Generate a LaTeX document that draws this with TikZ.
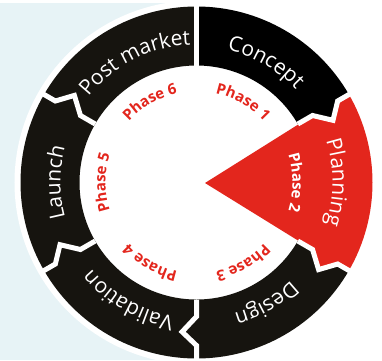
\documentclass[tikz,border=0pt]{standalone}
\usepackage{fontspec}
\setmainfont{Open Sans}
\usetikzlibrary{decorations.text}
\definecolor{ringdark}{HTML}{16140F}
\definecolor{phasered}{HTML}{E3261D}
\definecolor{paleblue}{HTML}{E7F3F6}
\tikzset{
  gapline/.style={white, line width=5pt},
  ringlabel/.style={decorate, decoration={text along path, text align=center, text color=white,
    text={|\fontsize{21}{25}\selectfont|#1}}},
  phaselabel/.style={decorate, decoration={text along path, text align=center, text color=phasered,
    text={|\fontsize{15}{18}\selectfont\bfseries|#1}}}
}
\begin{document}
\begin{tikzpicture}[x=1pt,y=1pt]
\useasboundingbox (-196.5,-177.5) rectangle (185.5,182.5);
\fill[paleblue] (-196.5,-177.5) rectangle (0,179.5);
\fill[white] (0,0) circle[radius=182pt];
\foreach \a/\b/\da/\db/\col in {90/30/0/5.5/black, -30/-90/5.5/5.5/ringdark, -90/-150/5.5/5.5/ringdark,
    -150/-210/5.5/5.5/ringdark, 150/90/5.5/0/ringdark}
  \fill[\col] (\a:117pt) -- (\a:134pt) -- ({\a-\da}:150pt) -- (\a:163pt) -- (\a:176pt)
    arc[start angle=\a, end angle=\b, radius=176pt] -- (\b:163pt) -- ({\b-\db}:150pt) -- (\b:134pt) -- (\b:117pt)
    arc[start angle=\b, end angle=\a, radius=117pt] -- cycle;
\coordinate (apex) at (8.5,-0.5);
\fill[phasered] (apex) -- (30:134pt) -- (24.5:150pt) -- (30:163pt) -- (30:176pt)
  arc[start angle=30, end angle=-30, radius=176pt] -- (-30:163pt) -- (-35.5:150pt) -- (-30:134pt) -- cycle;
\foreach \t/\d in {90/0, 30/5.5, -30/5.5, -90/5.5, -150/5.5, 150/5.5}
  \draw[gapline] (\t:117pt) -- (\t:134pt) -- ({\t-\d}:150pt) -- (\t:163pt) -- (\t:181pt);
\foreach \c/\r/\txt in {117/138/Post market, 60/136/Concept, 0/136/Planning, -60/136/Design,
    -120/136/Validation, 180/136/Launch}
  \path[ringlabel=\txt] ({\c+55}:\r pt) arc[start angle=\c+55, end angle=\c-55, radius=\r pt];
\foreach \c/\txt in {120/Phase 6, 60/Phase 1, -60/Phase 3, -120/Phase 4, 180/Phase 5}
  \path[phaselabel=\txt] ({\c+50}:91pt) arc[start angle=\c+50, end angle=\c-50, radius=91pt];
\path[phaselabel={Phase 2}, decoration={text color=white}] (50:96pt) arc[start angle=50, end angle=-50, radius=96pt];
\end{tikzpicture}
\end{document}
